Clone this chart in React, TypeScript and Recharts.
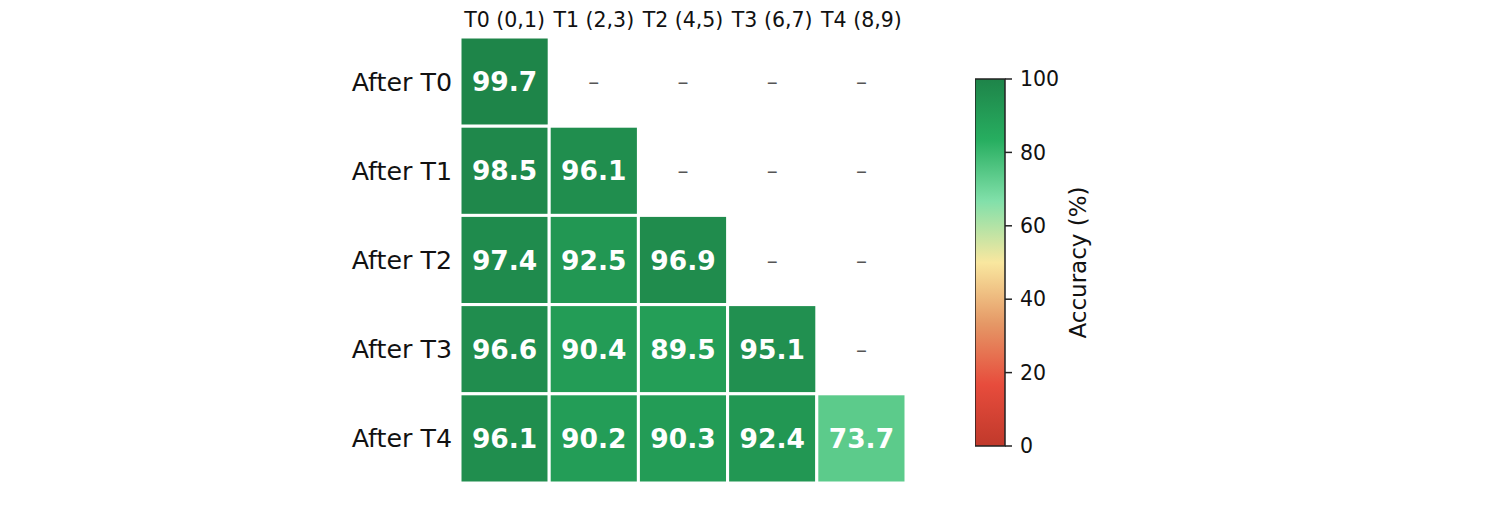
import React from "react";
import {
  ScatterChart,
  Scatter,
  XAxis,
  YAxis,
  BarChart,
  Bar,
} from "recharts";

const tasks = ["T0 (0,1)", "T1 (2,3)", "T2 (4,5)", "T3 (6,7)", "T4 (8,9)"];
const stages = ["After T0", "After T1", "After T2", "After T3", "After T4"];

// accuracy after each stage, one array per row (only tasks seen so far)
const afterT0 = [99.7];
const afterT1 = [98.5, 96.1];
const afterT2 = [97.4, 92.5, 96.9];
const afterT3 = [96.6, 90.4, 89.5, 95.1];
const afterT4 = [96.1, 90.2, 90.3, 92.4, 73.7];
const rows = [afterT0, afterT1, afterT2, afterT3, afterT4];

const cbarTicks = [0, 20, 40, 60, 80, 100];

// colormap stops, evenly spread over 0..100
const cmap = ["#c0392b", "#e74c3c", "#e59866", "#f9e79f", "#82e0aa", "#27ae60", "#1e8449"];

const FONT = "'DejaVu Sans', sans-serif";
const PLOT = 446;
const CELL = PLOT / tasks.length;

function hex(c: string) {
  return [1, 3, 5].map((i) => parseInt(c.slice(i, i + 2), 16));
}

function colorFor(v: number) {
  const t = Math.max(0, Math.min(1, v / 100)) * (cmap.length - 1);
  const i = Math.min(cmap.length - 2, Math.floor(t));
  const f = t - i;
  const a = hex(cmap[i]);
  const b = hex(cmap[i + 1]);
  const c = a.map((x, k) => Math.round(x + (b[k] - x) * f));
  return `rgb(${c[0]},${c[1]},${c[2]})`;
}

const cells = stages.flatMap((_, r) =>
  tasks.map((_, c) => ({ x: c, y: r, v: c < rows[r].length ? rows[r][c] : null }))
);

function Cell(props: any) {
  const { cx, cy, payload } = props;
  if (payload.v == null) {
    return (
      <text x={cx} y={cy} textAnchor="middle" dominantBaseline="central" fill="#555" fontSize={22} fontFamily={FONT}>
        –
      </text>
    );
  }
  return (
    <g>
      <rect
        x={cx - CELL / 2}
        y={cy - CELL / 2}
        width={CELL}
        height={CELL}
        fill={colorFor(payload.v)}
        stroke="#fff"
        strokeWidth={3}
      />
      <text
        x={cx}
        y={cy}
        textAnchor="middle"
        dominantBaseline="central"
        fill="#fff"
        fontSize={26.5}
        fontWeight="bold"
        fontFamily={FONT}
      >
        {payload.v.toFixed(1)}
      </text>
    </g>
  );
}

export default function App() {
  return (
    <div style={{ position: "absolute", left: 0, top: 0, width: 1500, height: 525, background: "#fff", fontFamily: FONT }}>
      <div style={{ position: "absolute", left: 0, top: 0 }}>
        <ScatterChart width={1500} height={525} margin={{ top: 7, right: 594, bottom: 42, left: 360 }}>
          <XAxis
            type="number"
            dataKey="x"
            orientation="top"
            domain={[-0.5, 4.5]}
            ticks={[0, 1, 2, 3, 4]}
            tickFormatter={(i: number) => tasks[i]}
            height={30}
            axisLine={false}
            tickLine={false}
            tickSize={0}
            tickMargin={10}
            interval={0}
            tick={{ fill: "#111", fontSize: 20.5, fontFamily: FONT }}
          />
          <YAxis
            type="number"
            dataKey="y"
            domain={[-0.5, 4.5]}
            reversed
            ticks={[0, 1, 2, 3, 4]}
            tickFormatter={(i: number) => stages[i]}
            width={100}
            axisLine={false}
            tickLine={false}
            tickSize={0}
            tickMargin={8}
            interval={0}
            tick={{ fill: "#111", fontSize: 25.3, fontFamily: FONT }}
          />
          <Scatter data={cells} shape={<Cell />} isAnimationActive={false} />
        </ScatterChart>
      </div>
      <div style={{ position: "absolute", left: 975, top: 0 }}>
        <BarChart
          width={150}
          height={525}
          data={[{ name: "cbar", v: 100 }]}
          margin={{ top: 79, right: 30, bottom: 79, left: 0 }}
          barCategoryGap={0}
        >
          <defs>
            <linearGradient id="cbarGrad" x1="0" y1="1" x2="0" y2="0">
              {cmap.map((c, i) => (
                <stop key={c} offset={`${(i / (cmap.length - 1)) * 100}%`} stopColor={c} />
              ))}
            </linearGradient>
          </defs>
          <XAxis dataKey="name" hide />
          <YAxis
            orientation="right"
            domain={[0, 100]}
            ticks={cbarTicks}
            width={90}
            axisLine={false}
            tickLine={{ stroke: "#222", strokeWidth: 1.5 }}
            tickSize={7}
            tickMargin={8}
            interval={0}
            tick={{ fill: "#111", fontSize: 20.5, fontFamily: FONT }}
            label={(p: any) => {
              const vb = p.viewBox || { x: 30, y: 79, width: 90, height: 367 };
              const x = vb.x + 73;
              const y = vb.y + vb.height / 2;
              return (
                <text
                  x={x}
                  y={y}
                  transform={`rotate(-90 ${x} ${y})`}
                  textAnchor="middle"
                  dominantBaseline="central"
                  fill="#111"
                  fontSize={23}
                  fontFamily={FONT}
                >
                  Accuracy (%)
                </text>
              );
            }}
          />
          <Bar dataKey="v" fill="url(#cbarGrad)" stroke="#222" strokeWidth={1.5} isAnimationActive={false} />
        </BarChart>
      </div>
    </div>
  );
}
